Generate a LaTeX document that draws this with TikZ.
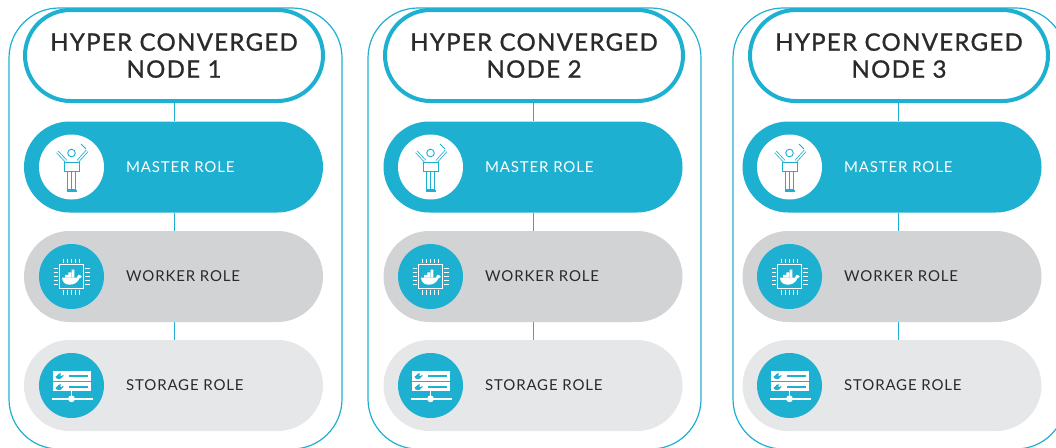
\documentclass[tikz,border=0pt]{standalone}
\usepackage{fontspec}
\setmainfont{Lato}
\newfontfamily\titlefont[LetterSpace=5.4,FakeBold=1]{Lato}
\newfontfamily\rolefont[LetterSpace=5.6]{Lato}
\usetikzlibrary{shapes.misc}
\definecolor{teal1}{HTML}{1EB0D0}
\definecolor{grey1}{HTML}{D1D3D4}
\definecolor{grey2}{HTML}{E6E7E8}
\definecolor{ink1}{HTML}{2B2A2B}
\begin{document}
\begin{tikzpicture}[
    x=1pt, y=-1pt,
    panel/.style={
      rectangle,
      rounded corners=50pt,
      draw=teal1,
      line width=1.2pt,
      minimum width=333pt,
      minimum height=441pt
    },
    title/.style={
      rounded rectangle,
      draw=teal1,
      fill=white,
      line width=4pt,
      minimum width=298pt,
      minimum height=91pt,
      inner sep=0pt,
      text depth=-5.5pt,
      align=center,
      text=ink1,
      font=\titlefont\fontsize{24}{27}\selectfont
    },
    bar/.style={
      rounded rectangle,
      minimum width=299pt,
      minimum height=91pt,
      inner sep=0pt
    },
    badge/.style={
      circle,
      minimum size=65pt,
      inner sep=0pt
    },
    role/.style={
      anchor=west,
      inner sep=0pt,
      text=ink1,
      font=\rolefont\fontsize{15}{18}\selectfont
    },
    link/.style={
      draw=teal1,
      line width=1.2pt
    },
    whale/.pic={
      \fill[pic actions] (-9.5,1) -- (5.5,1) .. controls (6,-1.5) and (7.5,-2.5) .. (8,-1.5)
        .. controls (9,-1.5) and (9.7,-.5) .. (10.3,.5) .. controls (9.4,1.7) and (8.5,1.7) .. (8,1.7)
        .. controls (6,6.5) and (2,8.2) .. (-2,8.2) .. controls (-7,8.2) and (-9.2,5) .. (-9.5,1) -- cycle;
      \fill[pic actions] (-6.4,-1.6) rectangle (-3.5,1) (-3.2,-1.6) rectangle (-.3,1) (0,-1.6) rectangle (2.9,1)
        (-3.2,-4.2) rectangle (-.3,-1.9) (0,-4.2) rectangle (2.9,-1.9) (0,-6.8) rectangle (2.9,-4.5);
    },
    conductor/.pic={
      \draw[teal1, line width=.9pt] (0,-14) circle (3.8);
      \draw[teal1, line width=.8pt, double=white, double distance=1.4pt] (-5.5,-6) -- (-14,-15);
      \draw[teal1, line width=.8pt, double=white, double distance=1.4pt] (6.5,-6) -- (15.5,-16);
      \draw[teal1, line width=.9pt] (9.5,-23) -- (14.5,-18);
      \draw[teal1, line width=.9pt] (-7,-4.5) rectangle (8,4);
      \draw[teal1, line width=.9pt] (-4,4) rectangle (4,22);
      \draw[teal1, line width=.9pt] (0,4) -- (0,22);
      \draw[teal1, line width=1.1pt] (-5,24) -- (5,24);
    },
    chipwhale/.pic={
      \draw[white, line width=1.2pt] (-12.3,-12.3) rectangle (12.3,12.3);
      \foreach \p in {-8,-4,0,4,8} {
        \draw[white, line width=1.2pt] (\p,-18) -- (\p,-13.5);
        \draw[white, line width=1.2pt] (\p,13.5) -- (\p,18);
        \draw[white, line width=1.2pt] (-18,\p) -- (-13.5,\p);
        \draw[white, line width=1.2pt] (13.5,\p) -- (18,\p);
      }
      \pic[white, fill=white] at (0,0) {whale};
    },
    serverrack/.pic={
      \fill[white] (-18.3,-14.7) rectangle (19.3,-5);
      \fill[white] (-18.3,-3.3) rectangle (19.3,5.7);
      \pic[fill=teal1, scale=.42] at (-12,-9.8) {whale};
      \pic[fill=teal1, scale=.42] at (-12,1.2) {whale};
      \fill[teal1] (-2.7,-10.6) rectangle (16.7,-9);
      \fill[teal1] (-2.7,.4) rectangle (16.7,2);
      \draw[white, line width=1.4pt] (0,5.7) -- (0,13.3);
      \draw[white, line width=1.4pt] (-20,13.3) -- (21,13.3);
      \fill[white] (0,13.3) circle (3.4);
    }
  ]

  \clip (0,0) rectangle (1056,447);

  \node[panel] (p1) at (175.5,228.5) {};
  \node[panel] (p2) at (534.5,228.5) {};
  \node[panel] (p3) at (899.5,228.5) {};

  \node[title] (t1) at (174,55.5) {HYPER CONVERGED\\NODE 1};
  \node[title] (t2) at (534,55.5) {HYPER CONVERGED\\NODE 2};
  \node[title] (t3) at (899,55.5) {HYPER CONVERGED\\NODE 3};

  \node[bar, fill=teal1] (m1) at (173.5,167) {};
  \node[bar, fill=grey1] (w1) at (173.5,276.5) {};
  \node[bar, fill=grey2] (s1) at (173.5,385.5) {};

  \node[bar, fill=teal1] (m2) at (533,167) {};
  \node[bar, fill=grey1] (w2) at (533,276.5) {};
  \node[bar, fill=grey2] (s2) at (533,385.5) {};

  \node[bar, fill=teal1] (m3) at (892,167) {};
  \node[bar, fill=grey1] (w3) at (892,276.5) {};
  \node[bar, fill=grey2] (s3) at (892,385.5) {};

  \draw[link] ([xshift=.5pt]t1.south) -- ([xshift=.5pt]t1.south |- m1.north);
  \draw[link] ([xshift=1pt]m1.south) -- ([xshift=1pt]w1.north);
  \draw[link] ([xshift=1pt]w1.south) -- ([xshift=1pt]s1.north);

  \draw[link] ([xshift=-.5pt]t2.south) -- ([xshift=-.5pt]t2.south |- m2.north);
  \draw[link] ([xshift=.5pt]m2.south) -- ([xshift=.5pt]w2.north);
  \draw[link] ([xshift=.5pt]w2.south) -- ([xshift=.5pt]s2.north);

  \draw[link] ([xshift=-.5pt]t3.south) -- ([xshift=-.5pt]t3.south |- m3.north);
  \draw[link] ([xshift=6.5pt]m3.south) -- ([xshift=6.5pt]w3.north);
  \draw[link] ([xshift=6.5pt]w3.south) -- ([xshift=6.5pt]s3.north);

  \node[badge, fill=white] (mi1) at (71.5,167) {};
  \node[badge, fill=teal1] (wi1) at (71.5,276.5) {};
  \node[badge, fill=teal1] (si1) at (71.5,385.5) {};

  \node[badge, fill=white] (mi2) at (430.5,167) {};
  \node[badge, fill=teal1] (wi2) at (430.5,276.5) {};
  \node[badge, fill=teal1] (si2) at (430.5,385.5) {};

  \node[badge, fill=white] (mi3) at (789.5,167) {};
  \node[badge, fill=teal1] (wi3) at (789.5,276.5) {};
  \node[badge, fill=teal1] (si3) at (789.5,385.5) {};

  \pic at (mi1) {conductor};
  \pic at (wi1) {chipwhale};
  \pic at (si1) {serverrack};

  \pic at (mi2) {conductor};
  \pic at (wi2) {chipwhale};
  \pic at (si2) {serverrack};

  \pic at (mi3) {conductor};
  \pic at (wi3) {chipwhale};
  \pic at (si3) {serverrack};

  \node[role, text=white] (ml1) at (126,167) {MASTER ROLE};
  \node[role] (wl1) at (126,276) {WORKER ROLE};
  \node[role] (sl1) at (126,385) {STORAGE ROLE};

  \node[role, text=white] (ml2) at (485,167) {MASTER ROLE};
  \node[role] (wl2) at (485,276) {WORKER ROLE};
  \node[role] (sl2) at (485,385) {STORAGE ROLE};

  \node[role, text=white] (ml3) at (844,167) {MASTER ROLE};
  \node[role] (wl3) at (844,276) {WORKER ROLE};
  \node[role] (sl3) at (844,385) {STORAGE ROLE};

\end{tikzpicture}
\end{document}
